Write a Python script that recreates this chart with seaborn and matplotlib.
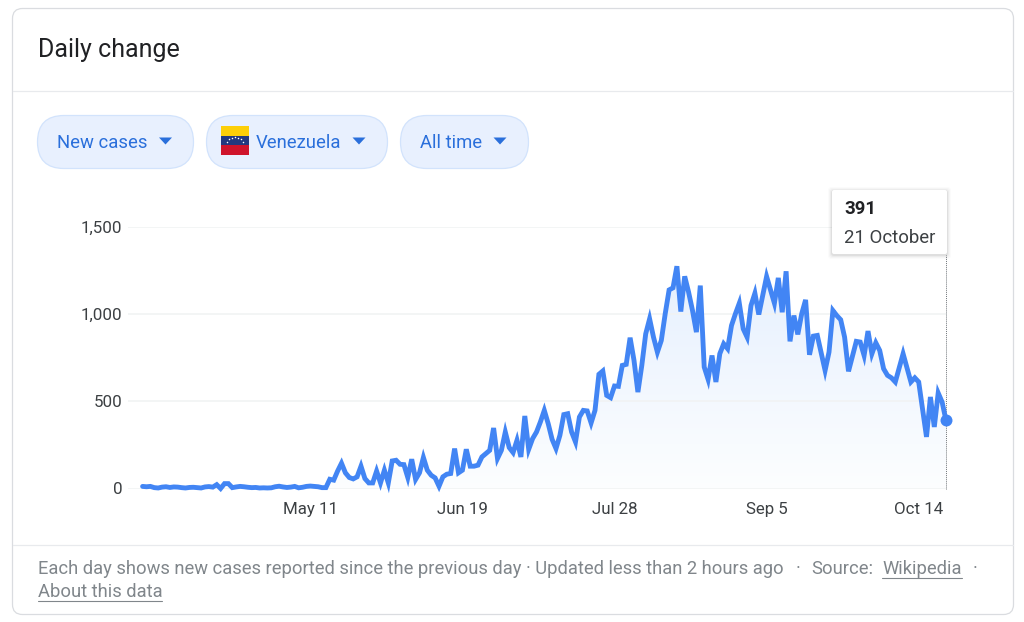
import numpy as np
import pandas as pd
import matplotlib.pyplot as plt
import matplotlib.dates as mdates
from matplotlib.patches import FancyBboxPatch, Rectangle, Polygon
import seaborn as sns

# === Data ===
daily_cases = [
    12, 10, 12, 5, 3, 8, 10, 6, 9, 8,
    5, 3, 6, 7, 5, 3, 9, 11, 8, 22,
    0, 28, 28, 5, 9, 12, 10, 7, 5, 6,
    3, 4, 3, 4, 10, 13, 9, 6, 8, 12,
    4, 7, 12, 14, 12, 10, 5, 5, 53, 48,
    100, 145, 90, 63, 55, 67, 128, 57, 32, 32,
    100, 32, 105, 32, 158, 162, 139, 137, 63, 168,
    52, 90, 178, 105, 76, 61, 13, 67, 82, 86,
    229, 90, 105, 225, 128, 128, 134, 181, 200, 219,
    347, 172, 219, 324, 235, 206, 277, 181, 416, 225,
    286, 324, 382, 448, 372, 282, 229, 305, 424, 429,
    324, 267, 410, 448, 445, 376, 448, 655, 674, 534,
    521, 588, 586, 706, 712, 865, 735, 553, 706, 887,
    973, 868, 782, 849, 1002, 1139, 1151, 1275, 1015, 1217,
    1126, 1021, 897, 1164, 697, 626, 763, 611, 773, 830,
    802, 935, 1002, 1063, 916, 868, 1050, 1120, 998, 1107,
    1216, 1139, 1063, 1208, 1011, 1246, 844, 992, 884, 1002,
    1082, 767, 874, 878, 777, 677, 782, 1021, 992, 968,
    868, 672, 758, 844, 840, 763, 903, 773, 836, 792,
    687, 649, 635, 611, 693, 773, 693, 611, 635, 611,
    452, 296, 525, 353, 548, 496, 391,
]
last_day = "2020-10-21"
x_tick_dates = ["2020-05-11", "2020-06-19", "2020-07-28", "2020-09-05", "2020-10-14"]
x_tick_labels = ["May 11", "Jun 19", "Jul 28", "Sep 5", "Oct 14"]
y_ticks = [0, 500, 1000, 1500]
y_tick_labels = ["0", "500", "1,000", "1,500"]

df = pd.DataFrame({
    "date": pd.date_range(end=last_day, periods=len(daily_cases)),
    "cases": daily_cases,
})

# === Setup ===
sns.set_style("white")
plt.rcParams["font.family"] = ["Roboto", "DejaVu Sans"]

W, H = 1024, 622
BLUE = "#4285f4"
CHIP_TEXT = "#2a6fdb"
GREY = "#80868b"

fig = plt.figure(figsize=(W / 100, H / 100), dpi=100, facecolor="white")

# chart axes, placed in pixels
left, right, top, bottom = 128, 946, 227, 488.5
ax = fig.add_axes([left / W, 1 - bottom / H, (right - left) / W, (bottom - top) / H])
ax.patch.set_alpha(0)

# === Area under the line ===
area = ax.fill_between(df["date"], df["cases"], 0, color="none")
grad = np.ones((256, 1, 4))
grad[..., 0] = np.linspace(0.90, 0.99, 256)[:, None]
grad[..., 1] = np.linspace(0.94, 0.995, 256)[:, None]
grad[..., 2] = np.linspace(0.995, 1.0, 256)[:, None]
x_start = mdates.date2num(df["date"].iloc[0])
x_end = mdates.date2num(df["date"].iloc[-1])
img = ax.imshow(grad, extent=[x_start, x_end, 0, 1300], aspect="auto", zorder=1, origin="upper")
img.set_clip_path(area.get_paths()[0], transform=ax.transData)

# === Line ===
sns.lineplot(data=df, x="date", y="cases", ax=ax, color=BLUE, linewidth=3.5,
             zorder=3, clip_on=False, solid_joinstyle="miter", errorbar=None)
ax.plot(df["date"].iloc[-1], daily_cases[-1], "o", color=BLUE, ms=8.6, mew=0, zorder=4, clip_on=False)
ax.plot([df["date"].iloc[-1]] * 2, [0, 1340], color="#70757a", lw=0.7, ls=(0, (1, 1)),
        zorder=2.8, clip_on=False)

# === Axes ===
ax.set_xlim(x_end - (right - left) / 3.9, x_end)
ax.set_ylim(0, 1500)
ax.set_yticks(y_ticks, y_tick_labels)
ax.set_xticks(pd.to_datetime(x_tick_dates), x_tick_labels)
ax.set_xlabel("")
ax.set_ylabel("")
ax.set_axisbelow(False)
ax.grid(axis="y", color="#f1f3f4", lw=1.2)
ax.grid(axis="x", visible=False)
ax.tick_params(axis="y", length=0, pad=4, labelsize=12.2, labelcolor="#3c4043")
ax.tick_params(axis="x", length=5, width=0.9, color="#e8eaed", pad=4.5, labelsize=12.2, labelcolor="#3c4043")
sns.despine(ax=ax, left=True, bottom=True)

# === Page furniture, in pixel coordinates ===
ui = fig.add_axes([0, 0, 1, 1], zorder=5)
ui.set_xlim(0, W)
ui.set_ylim(H, 0)
ui.axis("off")
ui.patch.set_alpha(0)

ui.add_patch(FancyBboxPatch((12.5, 8.5), 1001, 606, boxstyle="round,pad=0,rounding_size=10",
                            fc="none", ec="#dadce0", lw=0.9))
ui.plot([13, 1013], [90.5, 90.5], color="#e8eaed", lw=0.9)
ui.plot([13, 1013], [544.5, 544.5], color="#e8eaed", lw=0.9)
ui.text(38, 57, "Daily change", fontsize=18, color="#202124", va="baseline")

# filter chips
chips = [(37, 156, "New cases", 57, 165.5), (206, 181, "Venezuela", 256, 359), (400, 128, "All time", 420, 500)]
for cx, cw, label, tx, arrow in chips:
    ui.add_patch(FancyBboxPatch((cx + 0.5, 115.5), cw, 53, boxstyle="round,pad=0,rounding_size=26.5",
                                fc="#e8f0fe", ec="#d2e3fc", lw=0.9))
    ui.text(tx, 148, label, fontsize=13.3, color=CHIP_TEXT, va="baseline")
    ui.add_patch(Polygon([[arrow - 6.5, 137.5], [arrow + 6.5, 137.5], [arrow, 144.5]], fc=CHIP_TEXT, ec="none"))

# flag
ui.add_patch(Rectangle((221, 126), 28, 10, fc="#fdcf08", ec="none"))
ui.add_patch(Rectangle((221, 136), 28, 9, fc="#23397f", ec="none"))
ui.add_patch(Rectangle((221, 145), 28, 10, fc="#cf142b", ec="none"))
star_angle = np.radians([150, 130, 110, 90, 70, 50, 30])
ui.plot(235 + 9 * np.cos(star_angle), 146 - 9 * np.sin(star_angle), "o", color="white", ms=1.1, mew=0)

# tooltip
for grow, alpha in [(4, 0.015), (3, 0.025), (2, 0.035), (1, 0.05)]:
    ui.add_patch(FancyBboxPatch((832 - grow, 190 - grow + 1), 115 + 2 * grow, 64 + 2 * grow,
                                boxstyle="round,pad=0,rounding_size=3", fc="black", ec="none", alpha=alpha))
ui.add_patch(FancyBboxPatch((832, 190), 115, 64, boxstyle="round,pad=0,rounding_size=2", fc="white", ec="none"))
ui.text(844, 214, "391", fontsize=13.4, fontweight="bold", color="#202124", va="baseline")
ui.text(844, 243, "21 October", fontsize=13.4, color="#3c4043", va="baseline")

# footer
foot = dict(fontsize=13.2, color=GREY, va="baseline")
ui.text(38, 574, "Each day shows new cases reported since the previous day · Updated less than 2 hours ago", **foot)
ui.text(796, 574, "·", **foot)
ui.text(811, 574, "Source:", **foot)
ui.text(882, 574, "Wikipedia", **foot)
ui.text(973, 574, "·", **foot)
ui.text(38, 597, "About this data", **foot)
ui.plot([882, 962], [577.5, 577.5], color=GREY, lw=0.8)
ui.plot([38, 162], [600.5, 600.5], color=GREY, lw=0.8)

fig.savefig("out.png", dpi=100)
